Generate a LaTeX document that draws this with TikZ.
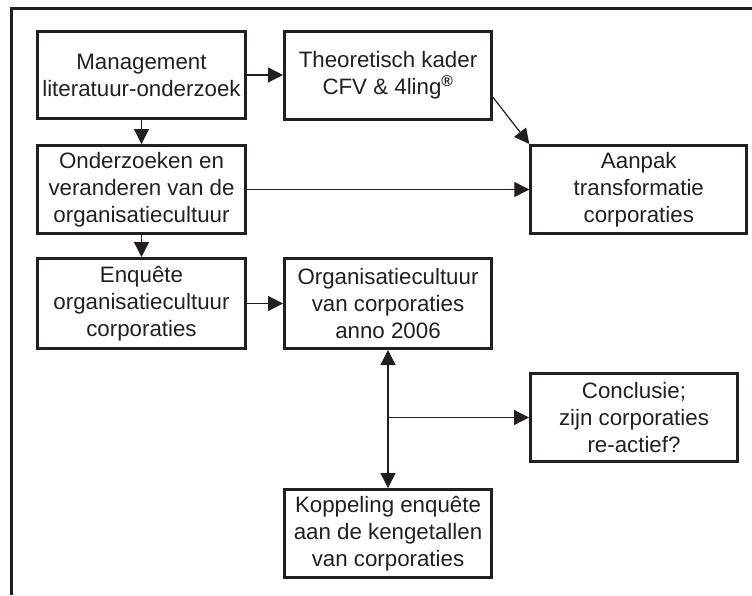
\documentclass[tikz,border=0pt]{standalone}
\usepackage{fontspec}
\setmainfont{Liberation Sans}
\usetikzlibrary{arrows.meta}
\definecolor{ink}{HTML}{231F20}
\begin{document}
\begin{tikzpicture}[x=1pt,y=-1pt,
  box/.style={draw=ink,line width=3pt,inner sep=0pt,minimum width=207pt,
    minimum height=88pt,align=center,text=ink,
    font=\fontsize{22.3}{27}\selectfont},
  link/.style={draw=ink,line width=1.2pt,-{Triangle[length=15pt,width=15pt]}},
  both/.style={draw=ink,line width=1.2pt,
    {Triangle[length=15pt,width=15pt]}-{Triangle[length=15pt,width=15pt]}},
  frame/.style={draw=ink,line width=3pt}]
\useasboundingbox (0,0) rectangle (752,595);

% open frame: top and left edges only
\coordinate (ftl) at (11.3,8.2);
\coordinate (ftr) at (752,8.2);
\coordinate (fbl) at (11.3,595);
\draw[frame] (ftr) -- (ftl) -- (fbl);

% boxes
\node[box,minimum width=208pt,minimum height=87pt] (mgmt) at (141.5,75) {Management\\literatuur-onderzoek};
\node[box] (theo) at (388,75) {Theoretisch kader\\CFV \& 4ling\textsuperscript{\textbf{\textregistered}}};
\node[box,minimum width=208pt] (ond) at (141.5,189.5) {Onderzoeken en\\veranderen van de\\organisatiecultuur};
\node[box,minimum width=216pt] (aanpak) at (638.8,189.5) {Aanpak\\transformatie\\corporaties};
\node[box,minimum width=208pt,minimum height=90pt] (enq) at (141.5,303.5) {Enquête\\organisatiecultuur\\corporaties};
\node[box,minimum height=90pt] (org) at (388,303.5) {Organisatiecultuur\\van corporaties\\anno 2006};
\node[box] (concl) at (634,417.5) {Conclusie;\\zijn corporaties\\re-actief?};
\node[box,minimum height=87.5pt] (kopp) at (388,533.3) {Koppeling enquête\\aan de kengetallen\\van corporaties};

% connectors
\draw[link] (mgmt) -- (theo);
\draw[link] (mgmt) -- (ond);
\draw[link] (ond) -- (enq);
\draw[link] (ond) -- (aanpak);
\draw[link] (theo.-12) -- (aanpak.north west);
\draw[link] (enq) -- (org);
\draw[both] (org) -- (kopp);
\coordinate (split) at (org.south |- concl.west);
\draw[link] (split) -- (concl);
\end{tikzpicture}
\end{document}
